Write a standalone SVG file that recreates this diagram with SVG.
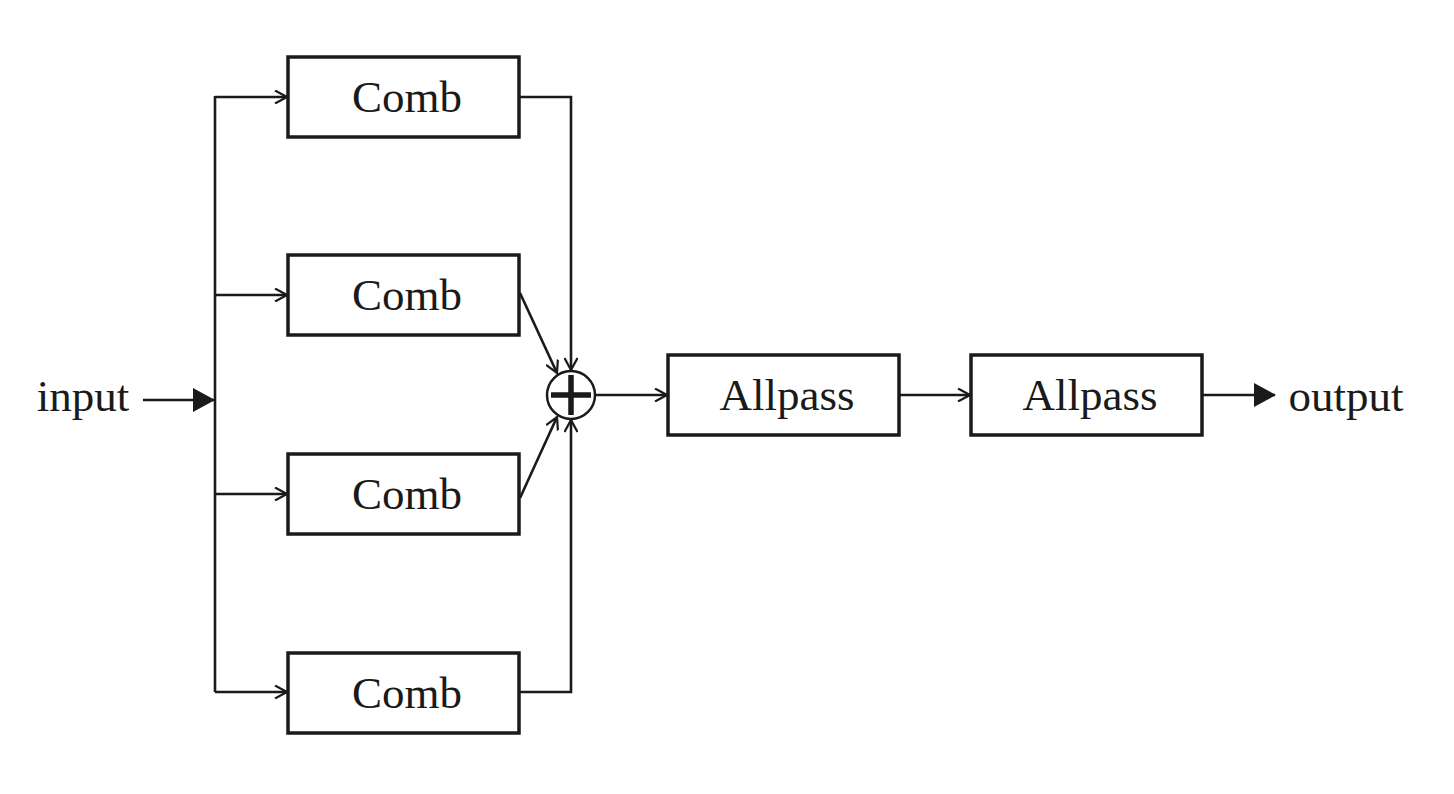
<svg xmlns="http://www.w3.org/2000/svg" width="1454" height="794" viewBox="0 0 1454 794">
<defs>
<style>
.box{fill:#fff;stroke:#1a1a1a;stroke-width:3.5}
.ln{fill:none;stroke:#1a1a1a;stroke-width:2.6}
.lbl{font-family:"Liberation Serif",serif;font-size:45px;fill:#1a1a1a;text-anchor:middle}
</style>
<marker id="open" viewBox="0 0 14 14" refX="13" refY="7" markerWidth="14" markerHeight="14" markerUnits="userSpaceOnUse" orient="auto">
<path d="M1,0.5 L13,7 L1,13.5" fill="none" stroke="#1a1a1a" stroke-width="2.2"/>
</marker>
<marker id="solid" viewBox="0 0 22 24" refX="21" refY="12" markerWidth="22" markerHeight="24" markerUnits="userSpaceOnUse" orient="auto">
<path d="M0,0 L22,12 L0,24 Z" fill="#1a1a1a"/>
</marker>
</defs>
<rect width="1454" height="794" fill="#fff"/>
<g id="connectors">
<path class="ln" d="M215,96 V692"/>
<path class="ln" d="M215,97 H287" marker-end="url(#open)"/>
<path class="ln" d="M215,295 H287" marker-end="url(#open)"/>
<path class="ln" d="M215,494 H287" marker-end="url(#open)"/>
<path class="ln" d="M215,692 H287" marker-end="url(#open)"/>
<path class="ln" d="M143,400 H214" stroke-width="3" marker-end="url(#solid)"/>
<path class="ln" d="M519,97 H571 V370" marker-end="url(#open)"/>
<path class="ln" d="M519,692 H571 V420" marker-end="url(#open)"/>
<path class="ln" d="M520,293 L557,373" marker-end="url(#open)"/>
<path class="ln" d="M520,498 L557,417" marker-end="url(#open)"/>
<path class="ln" d="M595,395 H667" marker-end="url(#open)"/>
<path class="ln" d="M899,395 H970" marker-end="url(#open)"/>
<path class="ln" d="M1202,395 H1275" marker-end="url(#solid)"/>
</g>
<g id="input"><text class="lbl" x="83" y="411">input</text></g>
<g id="output"><text class="lbl" x="1346" y="411">output</text></g>
<g id="comb1"><rect class="box" x="288" y="57" width="231" height="80"/><text class="lbl" x="407" y="112">Comb</text></g>
<g id="comb2"><rect class="box" x="288" y="255" width="231" height="80"/><text class="lbl" x="407" y="310">Comb</text></g>
<g id="comb3"><rect class="box" x="288" y="454" width="231" height="80"/><text class="lbl" x="407" y="509">Comb</text></g>
<g id="comb4"><rect class="box" x="288" y="653" width="231" height="80"/><text class="lbl" x="407" y="708">Comb</text></g>
<g id="sum">
<circle cx="571" cy="395" r="24" fill="#fff" stroke="#1a1a1a" stroke-width="2.5"/>
<path d="M551,395 H591 M571,375 V415" stroke="#1a1a1a" stroke-width="5.5" fill="none"/>
</g>
<g id="allpass1"><rect class="box" x="668" y="355" width="231" height="80"/><text class="lbl" x="787" y="410">Allpass</text></g>
<g id="allpass2"><rect class="box" x="971" y="355" width="231" height="80"/><text class="lbl" x="1090" y="410">Allpass</text></g>
</svg>
